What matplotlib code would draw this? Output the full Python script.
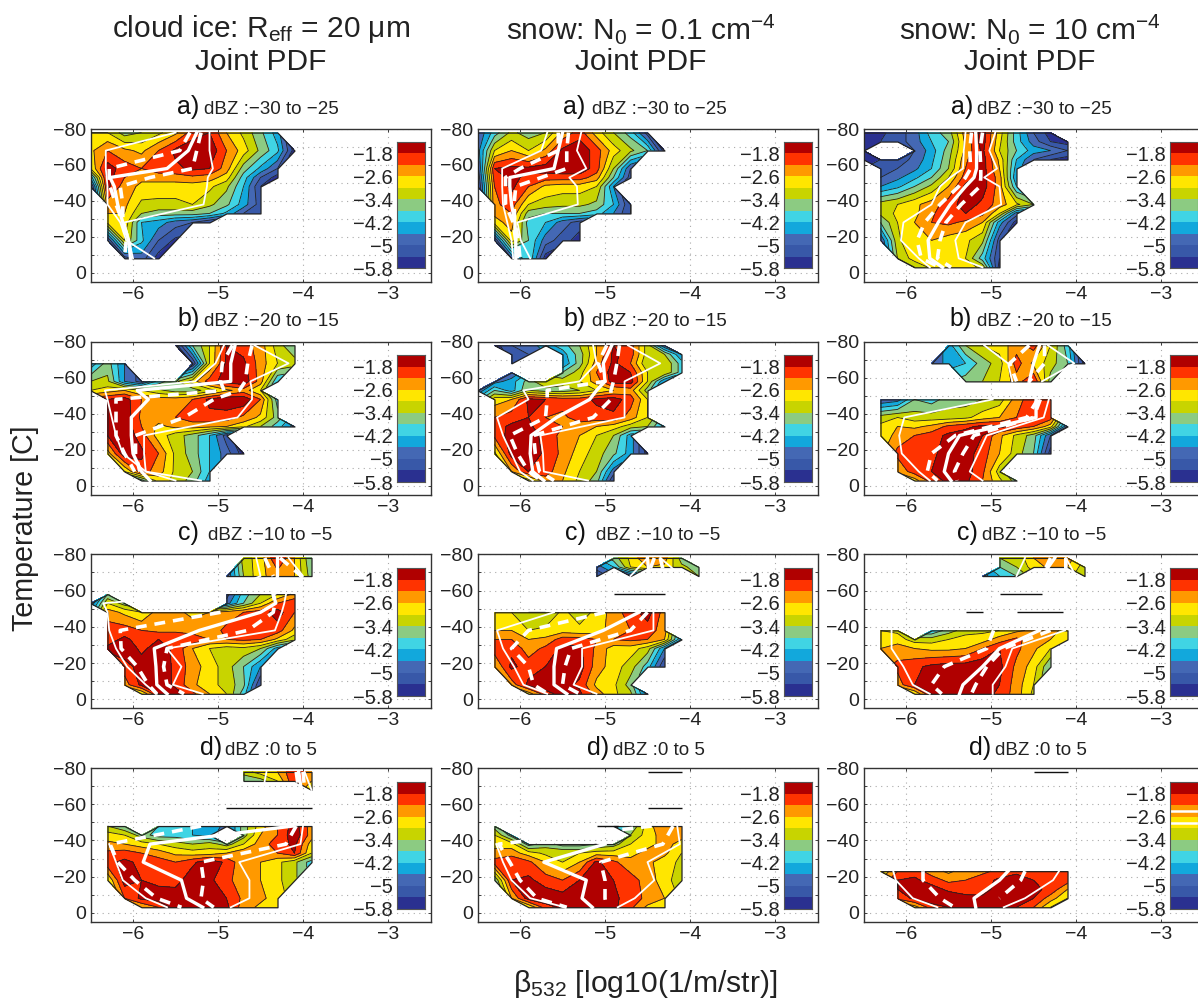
import numpy as np
import matplotlib
matplotlib.use('Agg')
from matplotlib import pyplot as plt
from matplotlib.colors import ListedColormap, BoundaryNorm

plt.rcParams['font.family'] = ['Liberation Sans', 'DejaVu Sans']
plt.rcParams['mathtext.fontset'] = 'custom'
plt.rcParams['mathtext.rm'] = 'Liberation Sans'
plt.rcParams['mathtext.it'] = 'Liberation Sans'

W, H = 1198, 1002
N = float('nan')

# PDF bands, log10 values
levels = [-5.8, -5.4, -5.0, -4.6, -4.2, -3.8, -3.4, -3.0, -2.6, -2.2, -1.8, -1.4]
band_colors = ['#2a3090', '#3858a8', '#4468b4', '#12a8dc', '#40d4e4', '#8ccb82',
               '#c8d400', '#ffe600', '#ff9900', '#ff3300', '#b00000']
cbar_ticks = [-1.8, -2.6, -3.4, -4.2, -5, -5.8]
cbar_labels = ['\u22121.8', '\u22122.6', '\u22123.4', '\u22124.2', '\u22125', '\u22125.8']

col_titles = ['cloud ice: R$_{\\mathrm{eff}}$ = 20 \u03bcm',
              'snow: N$_{0}$ = 0.1 cm$^{-4}$',
              'snow: N$_{0}$ = 10 cm$^{-4}$']
row_letters = ['a)', 'b)', 'c)', 'd)']
row_dbz = ['dBZ :\u221230 to \u221225', 'dBZ :\u221220 to \u221215',
           'dBZ :\u221210 to \u22125', 'dBZ :0 to 5']

# grid of the fields: beta (log10) and temperature
x_grid = [-6.5, -6.3, -6.1, -5.9, -5.7, -5.5, -5.3, -5.1, -4.9, -4.7, -4.5, -4.3, -4.1, -3.9]
y_full = [-78, -68, -58, -53, -48, -38, -33, -28, -18, -8, -3]
y_hole = [-78, -73, -68, -63, -58, -53, -48, -38, -33, -28, -18, -8, -3]
y_c1 = [-78, -68, -63, -58, -53, -48, -38, -33, -28, -18, -8, -3]
y_c23 = [-78, -73, -68, -58, -53, -48, -38, -33, -28, -18, -8, -3]
y_d1 = [-78, -73, -68, -58, -48, -43, -38, -33, -28, -18, -8, -3]
y_d2 = [-48, -43, -38, -33, -28, -18, -8, -3]
y_d3 = [-23, -18, -13, -8, -3]
line_y = [-78, -68, -58, -53, -48, -38, -28, -18, -8, -3]
line_y_d3 = [-23, -18, -8, -3]

# fields: minus ten times log10 PDF, 0 = no data, short rows are no data to the right
ice_a = [
    [30, 30, 36, 34, 31, 27, 20, 18, 26, 31, 37, 44],
    [27, 22, 25, 27, 22, 17, 15, 15, 22, 28, 35, 41, 56],
    [30, 16, 20, 22, 20, 19, 17, 18, 24, 36, 43, 50],
    [45, 16, 22, 25, 24, 24, 23, 24, 28, 40, 50, 56],
    [56, 17, 24, 27, 28, 28, 28, 29, 33, 42, 54],
    [0, 24, 25, 31, 31, 31, 30, 33, 37, 44, 52],
    [0, 26, 26, 34, 36, 36, 36, 38, 43, 50, 54],
    [0, 29, 27, 42, 44, 48, 50, 54],
    [0, 54, 30, 41, 50, 55],
    [0, 0, 52, 48, 56],
    [],
]
snow01_a = [
    [50, 40, 33, 36, 34, 25, 20, 28, 34, 40, 52],
    [48, 30, 26, 30, 25, 17, 15, 20, 28, 33, 38, 56],
    [52, 18, 17, 17, 16, 15, 15, 20, 34, 50],
    [54, 20, 17, 19, 20, 20, 20, 24, 38, 52],
    [56, 22, 17, 22, 27, 28, 28, 30, 46],
    [0, 23, 20, 30, 32, 33, 33, 35, 42, 54],
    [0, 25, 22, 36, 38, 38, 38, 40, 46, 54],
    [0, 28, 24, 40, 42, 48, 52],
    [0, 54, 28, 38, 48, 52, 56],
    [0, 0, 50, 38, 56],
    [],
]
snow10_a = [
    [55, 55, 52, 48, 40, 36, 24, 16, 28, 40, 50, 56],
    [55, 54, 52, 48, 42, 38, 25, 16, 29, 40, 48, 54, 56],
    [55, 0, 0, 50, 44, 36, 25, 17, 30, 38, 44, 46, 50],
    [56, 54, 52, 49, 43, 35, 23, 16, 27, 42, 50, 54, 56],
    [0, 52, 50, 47, 42, 34, 22, 16, 26, 44],
    [0, 50, 47, 43, 38, 30, 20, 16, 24, 46],
    [0, 46, 43, 38, 33, 26, 17, 16, 24, 42],
    [0, 32, 30, 27, 24, 20, 16, 19, 24, 29, 34],
    [0, 33, 29, 27, 23, 18, 18, 21, 30, 48],
    [0, 38, 30, 26, 22, 21, 23, 26, 44, 56],
    [0, 50, 31, 26, 26, 28, 29, 33, 52],
    [0, 0, 34, 28, 26, 27, 30, 40, 54],
    [0, 0, 0, 34, 29, 28, 28, 31, 56],
]
ice_b = [
    [0, 0, 0, 0, 0, 56, 38, 30, 18, 20, 24, 32, 38],
    [45, 36, 46, 0, 0, 0, 54, 30, 17, 17, 24, 30, 32],
    [34, 33, 46, 52, 40, 35, 28, 20, 16, 15, 24, 42],
    [30, 28, 26, 30, 33, 36, 36, 32, 27, 24, 30],
    [0, 18, 16, 22, 24, 24, 22, 17, 15, 15, 22, 40],
    [0, 16, 15, 23, 24, 22, 20, 19, 20, 23, 27, 36],
    [0, 16, 15, 22, 27, 25, 24, 25, 26, 29, 34, 40, 48],
    [0, 18, 15, 20, 28, 32, 36, 42, 52],
    [0, 28, 15, 17, 22, 31, 36, 42, 48, 56],
    [0, 0, 30, 20, 24, 31, 34, 42],
    [0, 0, 0, 40, 28, 31, 36, 44],
]
snow01_b = [
    [0, 56, 50, 48, 44, 40, 34, 26, 18, 20, 32, 50],
    [0, 0, 52, 50, 0, 44, 36, 26, 17, 20, 32, 34, 46],
    [0, 0, 52, 0, 0, 46, 36, 24, 17, 22, 34, 30, 40],
    [0, 0, 50, 0, 0, 38, 32, 22, 16, 18, 30, 30, 40],
    [0, 48, 44, 36, 30, 32, 30, 24, 16, 16, 30, 46],
    [50, 38, 44, 34, 36, 36, 34, 30, 26, 24, 36],
    [0, 28, 26, 17, 18, 20, 20, 17, 16, 20, 30],
    [0, 22, 20, 18, 22, 23, 20, 20, 19, 24, 30],
    [0, 20, 17, 17, 21, 22, 24, 26, 28, 32, 34, 44],
    [0, 21, 16, 15, 20, 23, 26, 30, 34, 44],
    [0, 31, 16, 15, 19, 23, 28, 32, 37, 44, 56],
    [0, 0, 26, 18, 20, 25, 30, 34, 48],
    [0, 0, 0, 32, 24, 26, 31, 36, 54],
]
snow10_b = [
    [0, 0, 0, 0, 0, 44, 34, 30, 28, 24, 20, 30, 40],
    [0, 0, 0, 0, 50, 44, 42, 36, 32, 20, 27, 32, 38, 56],
    [0, 0, 0, 0, 0, 0, 36, 34, 30, 24, 18, 36],
    [],
    [0, 50, 48, 38, 40, 36, 36, 34, 32, 24, 19, 19],
    [0, 32, 30, 32, 32, 32, 31, 28, 26, 22, 18, 20],
    [0, 29, 26, 27, 25, 21, 19, 17, 17, 19, 22, 28, 50],
    [0, 30, 24, 22, 20, 17, 16, 18, 25, 31, 36, 50],
    [0, 0, 21, 20, 19, 16, 16, 20, 26, 32, 38, 56],
    [0, 0, 25, 20, 18, 16, 16, 21, 32],
    [0, 0, 0, 28, 20, 17, 17, 22, 29, 36],
]
ice_c = [
    [0, 0, 0, 0, 0, 0, 0, 0, 0, 32, 28, 18, 26, 38],
    [0, 0, 0, 0, 0, 0, 0, 0, 50, 34, 27, 24, 26, 36],
    [],
    [0, 38, 0, 0, 0, 0, 0, 0, 52, 40, 34, 30, 25],
    [50, 30, 36, 0, 0, 0, 0, 0, 48, 38, 30, 22, 19],
    [0, 24, 27, 30, 24, 25, 27, 26, 24, 22, 20, 16, 22],
    [0, 20, 20, 22, 23, 23, 24, 24, 21, 19, 18, 20, 27],
    [0, 20, 17, 20, 18, 18, 19, 22, 22, 21, 22, 27, 33],
    [0, 17, 15, 19, 16, 19, 26, 30, 32, 31, 34, 44],
    [0, 0, 20, 16, 15, 19, 24, 28, 32, 38, 46],
    [0, 0, 24, 17, 15, 19, 25, 29, 31, 37, 54],
    [0, 0, 0, 30, 18, 16, 21, 26, 30, 40],
]
snow01_c = [
    [0, 0, 0, 0, 0, 0, 0, 0, 36, 29, 22, 24, 36],
    [0, 0, 0, 0, 0, 0, 0, 48, 42, 30, 26, 27, 33, 36],
    [0, 0, 0, 0, 0, 0, 0, 54, 0, 52, 0, 0, 0, 34],
    [],
    [],
    [0, 28, 30, 34, 34, 29, 32, 29, 24, 20, 16, 24],
    [0, 26, 26, 30, 29, 28, 29, 28, 24, 22, 20, 24],
    [0, 22, 22, 26, 25, 20, 20, 22, 22, 21, 22, 26, 46],
    [0, 20, 19, 24, 21, 17, 17, 23, 28, 28, 32, 46],
    [0, 26, 17, 20, 18, 15, 16, 24, 28, 32, 40, 54],
    [0, 0, 24, 17, 15, 16, 19, 27, 29, 36],
    [0, 0, 0, 28, 20, 16, 17, 24, 29, 33, 48],
]
snow10_c = [
    [0, 0, 0, 0, 0, 0, 0, 0, 34, 33, 26, 22, 24],
    [0, 0, 0, 0, 0, 0, 0, 0, 38, 34, 28, 25, 26, 32],
    [0, 0, 0, 0, 0, 0, 0, 48, 42, 38, 0, 0, 0, 34],
    [],
    [],
    [],
    [0, 30, 31, 0, 42, 36, 32, 31, 30, 27, 25, 24, 28],
    [0, 28, 28, 32, 32, 30, 28, 28, 24, 21, 24, 26, 28],
    [0, 26, 24, 26, 27, 27, 26, 22, 18, 21, 25, 30],
    [0, 0, 21, 19, 17, 16, 16, 15, 17, 23, 28, 38],
    [0, 0, 24, 18, 15, 15, 16, 16, 18, 24, 30],
    [0, 0, 0, 30, 18, 16, 16, 16, 19, 24, 31],
]
ice_d = [
    [0, 0, 0, 0, 0, 0, 0, 0, 0, 32, 28, 26, 18, 24],
    [0, 0, 0, 0, 0, 0, 0, 0, 0, 38, 36, 30, 18, 26],
    [0, 0, 0, 0, 0, 0, 0, 0, 0, 0, 0, 0, 0, 30],
    [],
    [0, 34, 38, 0, 38, 38, 42, 42, 48, 36, 28, 22, 16, 24],
    [0, 28, 30, 36, 40, 40, 42, 44, 0, 36, 26, 22, 15, 24],
    [0, 25, 26, 28, 30, 32, 34, 32, 36, 30, 24, 20, 17, 28],
    [0, 21, 20, 22, 24, 27, 28, 28, 26, 23, 24, 22, 18, 30],
    [0, 19, 17, 19, 20, 22, 19, 15, 19, 25, 26, 29, 33, 40],
    [0, 30, 16, 18, 19, 20, 15, 17, 21, 24, 26, 29, 33],
    [0, 0, 22, 17, 16, 15, 15, 15, 18, 23, 25, 28],
    [0, 0, 0, 26, 22, 16, 15, 15, 17, 24, 27, 29],
]
snow01_d = [
    [0, 36, 0, 0, 0, 0, 0, 0, 44, 38, 28, 22, 24],
    [0, 30, 40, 0, 0, 0, 0, 0, 0, 34, 28, 24, 25],
    [0, 27, 28, 40, 36, 40, 40, 38, 36, 30, 27, 25, 27],
    [0, 25, 24, 28, 31, 30, 30, 28, 28, 27, 25, 25, 30],
    [0, 20, 18, 21, 26, 30, 26, 17, 21, 25, 25, 28, 31],
    [0, 38, 18, 17, 20, 22, 18, 15, 18, 20, 24, 28, 33],
    [0, 0, 26, 16, 15, 16, 16, 15, 17, 20, 23, 26],
    [0, 0, 0, 30, 20, 17, 15, 15, 17, 21, 27, 28],
]
snow10_d = [
    [0, 30, 22, 20, 24, 27, 24, 23, 21, 19, 20, 20, 20],
    [0, 0, 18, 17, 20, 23, 22, 20, 17, 16, 18, 20, 20],
    [0, 0, 18, 15, 16, 19, 21, 20, 16, 15, 17, 19, 26],
    [0, 0, 21, 17, 15, 15, 16, 17, 15, 15, 18, 24, 30],
    [0, 0, 0, 28, 20, 18, 16, 16, 17, 18, 22, 30],
]

# white curves: outer left, dashed left, median, dashed right, outer right (x at line_y)
ice_a_lines = [
    [-5.5, -6.32, -6.32, -6.31, -6.3, -6.3, -6.15, -6.08, -5.75, N],
    [-5.33, -5.45, -6.28, -6.28, -6.27, -6.2, -6.12, -6.08, -6.1, N],
    [-5.25, -5.35, -5.6, -6.27, -6.22, -6.18, -6.12, -6.05, -6.03, N],
    [-5.2, -5.25, -5.3, -5.8, -6.15, -6.12, -6.12, -6.05, -6.02, N],
    [-5.1, -5.1, -5.06, -5.12, -5.13, -5.17, -6.1, -6.05, -6.0, N],
]
snow01_a_lines = [
    [-5.68, -5.75, -6.21, -6.21, -6.21, -6.2, -6.15, -6.1, -6.08, N],
    [-5.55, -5.55, -6.0, -6.17, -6.17, -6.17, -6.08, -6.05, -6.03, N],
    [-5.5, -5.55, -5.6, -6.12, -6.12, -6.1, -6.06, -6.05, -6.05, N],
    [-5.43, -5.45, -5.45, -5.75, -6.05, -6.07, -6.06, -6.02, -6.0, N],
    [-5.28, -5.33, -5.22, -5.42, -5.33, -5.32, -6.03, -5.99, -5.88, N],
]
snow10_a_lines = [
    [-5.3, -5.32, -5.33, -5.48, -5.6, -5.7, -6.03, -6.06, -5.85, -5.72],
    [-5.23, -5.25, -5.24, -5.3, -5.38, -5.6, -5.78, -5.87, -5.82, -5.6],
    [-5.18, -5.17, -5.17, -5.2, -5.3, -5.48, -5.62, -5.74, -5.72, -5.57],
    [-5.1, -5.13, -5.12, -5.12, -5.13, -5.35, -5.53, -5.6, -5.63, -5.47],
    [-4.95, -5.02, -4.93, -5.08, -4.9, -4.88, -5.3, -5.42, -5.38, -5.1],
]
ice_b_lines = [
    [-4.93, -5.03, -5.27, -6.33, -6.3, -6.25, -6.2, -6.12, -5.85, -5.2],
    [-4.83, -4.95, -4.97, -4.93, -6.2, -6.2, -6.2, -6.1, -5.98, N],
    [-4.8, -4.85, -4.85, -5.95, -5.82, -6.02, -6.02, -6.0, -5.9, -5.8],
    [-4.6, -4.65, -4.68, -4.75, -5.05, -5.4, -5.97, -5.97, -5.92, N],
    [-4.57, -4.17, -4.62, -4.6, -4.6, -4.77, -5.87, -5.87, -5.85, -5.5],
]
snow01_b_lines = [
    [-5.14, -5.1, -5.3, -5.96, -5.9, -6.27, -6.2, -6.1, -6.0, -5.85],
    [-4.98, -5.08, -5.0, -5.68, -5.68, -5.7, -6.12, -6.03, -5.9, -5.75],
    [-4.92, -5.02, -5.0, -5.1, -5.18, -5.57, -5.87, -5.88, -5.85, -5.72],
    [-4.83, -4.86, -4.9, -4.93, -4.93, -5.14, -5.84, -5.82, -5.77, -5.6],
    [-4.73, -4.35, -4.77, -4.77, -4.77, -4.77, -5.76, -5.73, -5.72, -5.2],
]
snow10_b_lines = [
    [-5.08, -4.8, -4.75, N, -4.98, -6.02, -6.08, -6.05, -5.85, -5.72],
    [-4.55, -4.78, -4.7, N, -4.45, -4.58, -5.42, -5.7, -5.75, -5.63],
    [-4.43, -4.5, -4.55, N, -4.47, -4.47, -5.37, -5.5, -5.55, -5.47],
    [-4.37, -4.37, -4.55, N, -4.42, -4.5, -5.2, -5.33, -5.43, -5.4],
    [-4.33, -4.02, -4.4, N, -4.32, -4.38, -5.05, -5.15, -5.25, -5.1],
]
ice_c_lines = [
    [-4.55, -4.5, -5.0, -6.35, -6.3, -6.28, -6.2, -6.07, -5.85, -5.72],
    [-4.45, -4.35, N, N, -4.97, -6.15, -6.14, -5.95, -5.82, -5.72],
    [-4.3, -4.3, -4.35, -4.32, -4.5, -5.22, -5.75, -5.73, -5.72, -5.6],
    [-4.27, -4.02, -4.35, -4.33, -4.35, -4.65, -5.6, -5.64, -5.6, -5.4],
    [-4.17, -4.0, -4.2, -4.22, -4.25, -4.33, -5.6, -5.43, -5.53, -5.18],
]
snow01_c_lines = [
    [-4.5, -4.7, N, N, -5.6, -6.27, -6.2, -6.07, -5.96, -5.68],
    [-4.42, -4.5, N, N, -5.0, -5.9, -6.1, -5.9, -5.84, -5.67],
    [-4.5, -4.48, N, N, -4.6, -5.02, -5.57, -5.6, -5.6, -5.45],
    [-4.35, -4.3, N, N, -4.5, -4.7, -5.4, -5.47, -5.5, -5.3],
    [-4.35, -4.1, N, N, -4.43, -4.43, -5.27, -5.27, -5.37, -5.1],
]
snow10_c_lines = [
    [-4.6, -4.7, N, N, N, -6.17, -6.17, -6.03, -5.92, -5.72],
    [-4.3, -4.4, N, N, N, -4.97, -5.05, -5.55, -5.7, -5.58],
    [-4.25, -4.4, N, N, N, -4.43, -4.9, -5.1, -5.33, -5.37],
    [-4.12, -4.12, N, N, N, -4.3, -4.85, -5.05, -5.18, -5.23],
    [-4.12, -4.0, N, N, N, -4.13, -4.75, -4.83, -4.98, -4.98],
]
ice_d_lines = [
    [-4.43, -4.47, N, N, N, -6.28, -6.2, -6.12, -5.85, -5.6],
    [-4.08, -4.05, N, N, -5.2, -6.27, -6.18, -5.98, -5.72, -5.43],
    [-4.05, -4.02, N, N, -4.12, -5.8, -5.88, -5.43, -5.37, -5.18],
    [-4.0, -3.98, N, N, -4.08, -4.2, -5.2, -5.17, -5.2, -5.05],
    [-3.98, -3.9, N, N, -4.0, -4.03, -4.75, -4.63, -4.63, -4.85],
]
snow01_d_lines = [
    [N, N, N, N, N, -6.28, -6.2, -6.1, -5.88, -5.47],
    [N, N, N, N, -4.45, -6.25, -6.12, -6.0, -5.8, -5.45],
    [N, N, N, N, N, -5.0, -5.72, -5.22, -5.27, -5.15],
    [N, N, N, N, -4.2, -4.32, -5.05, -5.0, -5.0, -4.98],
    [N, N, N, N, -4.15, -4.12, -4.5, -4.42, -4.65, -4.85],
]
snow10_d_lines = [
    [-6.15, -6.12, -5.92, -5.63],
    [-5.8, -5.8, -5.6, -5.43],
    [-4.8, -4.9, -5.2, -5.18],
    [-4.6, -4.65, -4.9, N],
    [-4.2, -4.27, -4.6, -4.85],
]

# thin black streaks where a single temperature bin has data: (T, x from, x to)
streaks = {
    (2, 1): [(-58, -4.9, -4.3)],
    (2, 2): [(-58, -4.9, -4.4), (-48, -5.3, -5.1), (-48, -4.7, -4.15)],
    (3, 0): [(-58, -4.9, -3.9)],
    (3, 1): [(-78, -4.5, -4.1), (-58, -4.5, -4.1), (-48, -5.1, -4.85)],
    (3, 2): [(-78, -4.5, -4.1)],
}

fields = [[ice_a, snow01_a, snow10_a], [ice_b, snow01_b, snow10_b],
          [ice_c, snow01_c, snow10_c], [ice_d, snow01_d, snow10_d]]
lines = [[ice_a_lines, snow01_a_lines, snow10_a_lines], [ice_b_lines, snow01_b_lines, snow10_b_lines],
         [ice_c_lines, snow01_c_lines, snow10_c_lines], [ice_d_lines, snow01_d_lines, snow10_d_lines]]
field_y = [[y_full, y_full, y_hole], [y_full, y_hole, y_full], [y_c1, y_c23, y_c23], [y_d1, y_d2, y_d3]]

# layout in pixels
col_left = [90.5, 477.5, 863.5]
row_top = [129, 341.7, 554.3, 768.3]
row_bottom = [281.7, 495, 708.3, 921.7]
cbar_left = [397, 784, 1170]
cbar_top = [141.7, 355, 568, 782]
cbar_bottom = [268, 482, 696, 909]
letter_base = [114, 326, 540, 755]
letter_x = [[177, 563, 951], [177, 563, 949], [178, 565, 957], [200, 587, 969]]
dbz_x = [[204, 592, 977], [204, 592, 977], [208, 596, 982], [225, 613, 995]]


def axes_px(left, top, right, bottom):
    return fig.add_axes([left / W, 1 - bottom / H, (right - left) / W, (bottom - top) / H])


cmap = ListedColormap(band_colors)
cmap.set_over(band_colors[-1])
norm = BoundaryNorm(levels, cmap.N, extend='neither')

fig = plt.figure(figsize=(W / 100, H / 100), dpi=100)

for r in range(4):
    for c in range(3):
        ax = axes_px(col_left[c], row_top[r], col_left[c] + 340, row_bottom[r])
        rows = [row + [0] * (14 - len(row)) for row in fields[r][c]]
        z = -np.array(rows, dtype=float) / 10
        z = np.ma.masked_where(z == 0, z)
        ax.contourf(x_grid, field_y[r][c], z, levels=levels, cmap=cmap, norm=norm, extend='max', zorder=2)
        ax.contour(x_grid, field_y[r][c], z, levels=levels[:-1], colors='#222222', linewidths=0.6,
                   linestyles='solid', zorder=3)
        outline = ax.contourf(x_grid, field_y[r][c], z, levels=[-99, 99], colors='none', zorder=3)
        outline.set_edgecolor('#222222')
        outline.set_linewidth(0.9)

        ys = line_y_d3 if (r, c) == (3, 2) else line_y
        curves = lines[r][c]
        ax.plot(curves[0], ys, color='white', lw=1.3, zorder=4)
        ax.plot(curves[4], ys, color='white', lw=1.3, zorder=4)
        ax.plot(curves[2], ys, color='white', lw=2.4, zorder=4)
        ax.plot(curves[1], ys, color='white', lw=2.6, dashes=(3, 2.2), zorder=4)
        ax.plot(curves[3], ys, color='white', lw=2.6, dashes=(3, 2.2), zorder=4)

        for t, x0, x1 in streaks.get((r, c), []):
            ax.hlines(t, x0, x1, color='#111111', lw=1.0, zorder=3)

        ax.set_xlim(-6.5, -2.5)
        ax.set_ylim(5, -80)
        ax.set_xticks([-6, -5, -4, -3])
        ax.set_yticks([-80, -60, -40, -20, 0])
        ax.set_yticks([-70, -50, -30, -10], minor=True)
        ax.grid(True, which='both', linestyle=(0, (1, 4)), color='#aaaaaa', linewidth=0.8)
        ax.set_axisbelow(True)
        ax.tick_params(axis='both', which='both', direction='in', length=2.5, width=0.6,
                       top=True, right=True, labelsize=14, colors='#222222', pad=3)
        for s in ax.spines.values():
            s.set_color('#333333')
            s.set_linewidth(1.0)

        fig.text(letter_x[r][c] / W, 1 - letter_base[r] / H, row_letters[r], fontsize=18, va='baseline', color='#111111')
        fig.text(dbz_x[r][c] / W, 1 - letter_base[r] / H, row_dbz[r], fontsize=13.5, va='baseline', color='#222222')

        cb = axes_px(cbar_left[c], cbar_top[r], cbar_left[c] + 27.5, cbar_bottom[r])
        cb.pcolormesh([0, 1], levels, np.array(levels[:-1])[:, None] + 0.2, cmap=cmap, norm=norm)
        if (r, c) == (3, 2):
            cb.hlines([-2.42, -2.82], 0, 1, color='white', lw=1.8)
        cb.set_xticks([])
        cb.set_xlim(0, 1)
        cb.set_ylim(-5.8, -1.4)
        cb.set_yticks(cbar_ticks)
        cb.set_yticklabels(cbar_labels)
        cb.tick_params(axis='y', length=0, labelsize=14.5, colors='#222222', pad=3)
        for s in cb.spines.values():
            s.set_color('#555555')
            s.set_linewidth(0.8)

title_x = [261, 641, 1030]
for c in range(3):
    fig.text(title_x[c] / W, 1 - 29 / H, col_titles[c], fontsize=21.5, ha='center', va='center', color='#222222')
    fig.text(title_x[c] / W, 1 - 62 / H, 'Joint PDF', fontsize=21.5, ha='center', va='center', color='#222222')

fig.text(25 / W, 1 - 528 / H, 'Temperature [C]', fontsize=20.6, rotation=90, ha='center', va='center', color='#222222')
fig.text(645 / W, 1 - 984 / H, '\u03b2$_{532}$ [log10(1/m/str)]', fontsize=21.7, ha='center', va='center', color='#222222')

fig.savefig('out.png', dpi=100)
